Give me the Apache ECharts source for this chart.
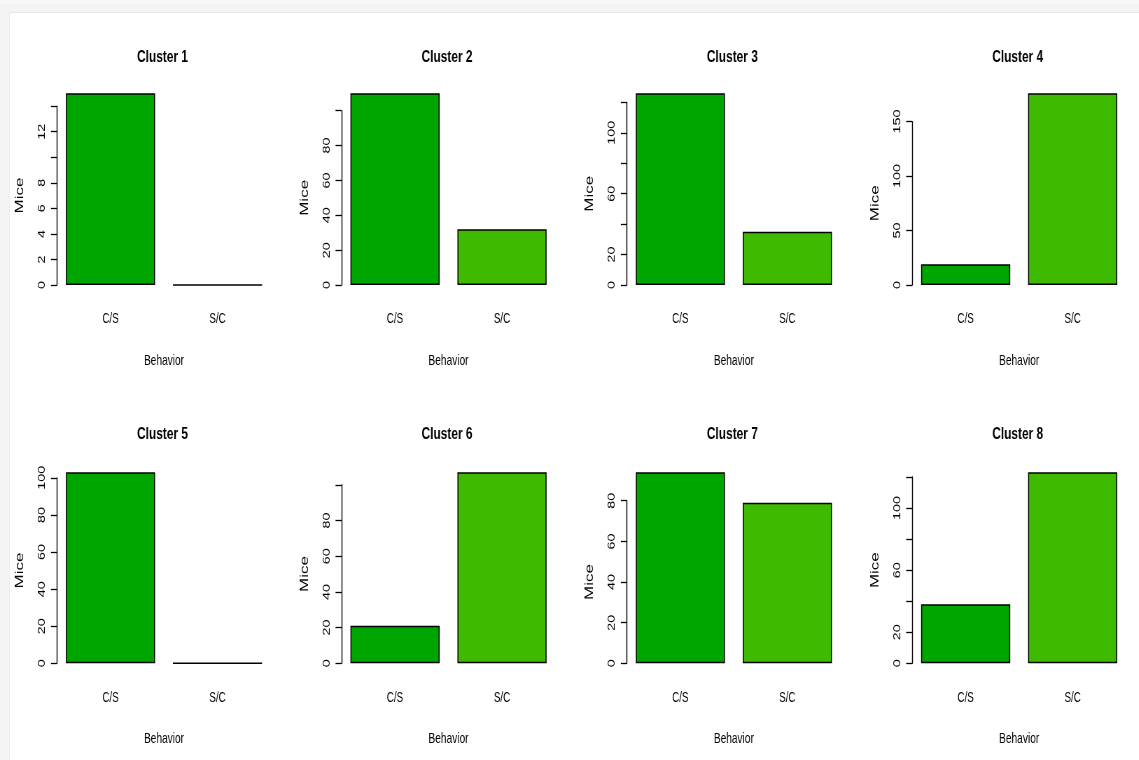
<!DOCTYPE html>
<html>
<head>
<meta charset="utf-8">
<title>Mice per behavior by cluster</title>
<script src="https://cdn.jsdelivr.net/npm/echarts@6/dist/echarts.min.js"></script>
<style>
  html, body { margin: 0; padding: 0; width: 1139px; height: 760px; overflow: hidden; background: #f4f4f4; }
  #frame { position: absolute; left: 9px; top: 12px; right: 0; bottom: 0; background: #ffffff;
           border-top: 1px solid #e6e6e6; border-left: 1px solid #ececec; }
  #topband { position: absolute; left: 0; top: 0; right: 0; height: 4px; background: #f8f8f8; }
  #chart { position: absolute; left: 0; top: 0; height: 760px; transform-origin: 0 0; }
</style>
</head>
<body>
<div id="topband"></div>
<div id="frame"></div>
<div id="chart"></div>
<script>
// Number of mice showing each behavior, per cluster
const clusters = ['Cluster 1', 'Cluster 2', 'Cluster 3', 'Cluster 4',
                  'Cluster 5', 'Cluster 6', 'Cluster 7', 'Cluster 8'];
const behaviors = ['C/S', 'S/C'];
const csMice = [15, 110, 126, 19, 103, 21, 94, 38];
const scMice = [0, 32, 35, 176, 0, 107, 79, 123];

// y-axis ticks per panel: step, last tick, and which tick labels are printed
const tickStep = [2, 20, 20, 50, 20, 20, 20, 20];
const tickLast = [14, 100, 120, 150, 100, 100, 80, 120];
const tickLabels = [
  [0, 2, 4, 6, 8, 12],
  [0, 20, 40, 60, 80],
  [0, 20, 60, 100],
  [0, 50, 100, 150],
  [0, 20, 40, 60, 80, 100],
  [0, 20, 40, 60, 80],
  [0, 20, 40, 60, 80],
  [0, 20, 60, 100]
];

// The figure is drawn wide and squeezed horizontally (condensed lettering).
const SQUEEZE = 0.7;
const W = 1139, H = 760;
const el = document.getElementById('chart');
el.style.width = (W / SQUEEZE) + 'px';
el.style.transform = 'scaleX(' + SQUEEZE + ')';
const sx = v => v / SQUEEZE;   // on-screen x length -> drawing x length

// Panel layout in on-screen pixels: 4 columns x 2 rows
const colLeft = [57, 341.5, 626.85, 912.15];
const panelWidth = 214;
const rowZero = [285, 663.3];   // baseline of the bars
const rowPeak = [93.3, 472.3];  // where the tallest bar of a panel ends
const rowTitle = [49, 426];
const barColors = ['#00A600', '#3EBB00'];
const font = '"Liberation Sans", Arial, Helvetica, sans-serif';

const grids = [], xAxes = [], yAxes = [], series = [], titles = [];

clusters.forEach((name, i) => {
  const col = i % 4, row = Math.floor(i / 4);
  const peak = Math.max(csMice[i], scMice[i]);
  const zero = rowZero[row];
  const pxPerUnit = (zero - rowPeak[row]) / peak;
  const top = zero - tickLast[i] * pxPerUnit;

  grids.push({
    left: sx(colLeft[col]), width: sx(panelWidth),
    top: top, height: zero - top,
    containLabel: false
  });

  xAxes.push({
    type: 'category', gridIndex: i, data: behaviors,
    axisLine: { show: false }, axisTick: { show: false },
    axisLabel: { color: '#000', fontFamily: font, fontSize: 14, margin: 27.5 },
    name: 'Behavior', nameLocation: 'middle', nameGap: 68,
    nameTextStyle: { color: '#000', fontFamily: font, fontSize: 14.5 }
  });

  const shown = tickLabels[i];
  yAxes.push({
    type: 'value', gridIndex: i,
    min: 0, max: tickLast[i], interval: tickStep[i],
    splitLine: { show: false },
    axisLine: { show: true, lineStyle: { color: '#000', width: 1.4 } },
    axisTick: { show: true, length: sx(6), lineStyle: { color: '#000', width: 1.3 } },
    axisLabel: {
      rotate: 90, margin: sx(10), color: '#000', fontFamily: font, fontSize: 14.4,
      formatter: v => (shown.indexOf(v) >= 0 ? String(v) : '')
    },
    name: 'Mice', nameLocation: 'middle', nameGap: sx(31),
    nameTextStyle: { color: '#000', fontFamily: font, fontSize: 17 }
  });

  series.push({
    type: 'bar', xAxisIndex: i, yAxisIndex: i,
    clip: false,
    barCategoryGap: '16.67%',
    data: [
      { value: csMice[i], itemStyle: { color: barColors[0] } },
      { value: scMice[i], itemStyle: { color: barColors[1] } }
    ],
    itemStyle: { borderColor: '#000', borderWidth: 1.5 },
    emphasis: { disabled: true },
    animation: false
  });

  titles.push({
    text: name,
    left: sx(colLeft[col] + panelWidth / 2 - 1.5), top: rowTitle[row],
    textAlign: 'center', padding: 0,
    textStyle: { color: '#000', fontFamily: font, fontWeight: 'bold', fontSize: 17 }
  });
});

const chart = echarts.init(el, null, { renderer: 'canvas', width: W / SQUEEZE, height: H });
chart.setOption({
  animation: false,
  backgroundColor: 'transparent',
  title: titles,
  grid: grids,
  xAxis: xAxes,
  yAxis: yAxes,
  series: series
});
</script>
</body>
</html>
